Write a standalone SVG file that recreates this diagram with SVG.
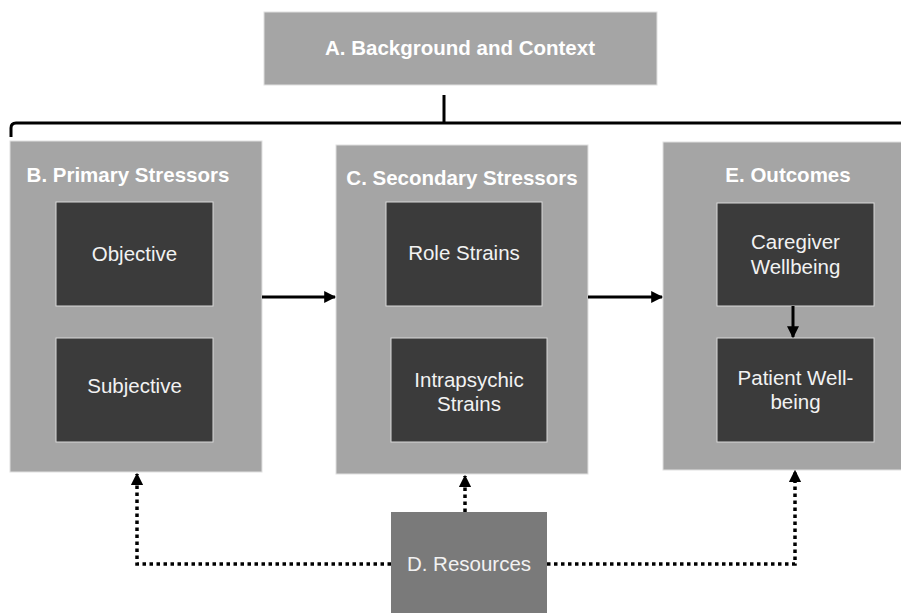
<svg xmlns="http://www.w3.org/2000/svg" width="901" height="613" viewBox="0 0 901 613">
<defs>
<style>
.outer{fill:#a5a5a5;stroke:#e0e0e0;stroke-width:1}
.inner{fill:#3b3b3b;stroke:#d9d9d9;stroke-width:1}
.res{fill:#7a7a7a}
.title{font-family:"Liberation Sans",Arial,sans-serif;font-weight:bold;font-size:20.5px;fill:#ffffff;text-anchor:middle}
.lbl{font-family:"Liberation Sans",Arial,sans-serif;font-size:20.5px;fill:#f2f2f2;text-anchor:middle}
.solid{fill:none;stroke:#000;stroke-width:3}
.dot{fill:none;stroke:#000;stroke-width:3.5;stroke-dasharray:3.5 3.5}
</style>
<marker id="ah" viewBox="0 0 10 10" refX="9" refY="5" markerWidth="4" markerHeight="4" orient="auto" markerUnits="strokeWidth">
<path d="M0,0 L10,5 L0,10 z" fill="#000"/>
</marker>
<marker id="ahd" viewBox="0 0 10 10" refX="9" refY="5" markerWidth="3.6" markerHeight="3.6" orient="auto" markerUnits="strokeWidth">
<path d="M0,0 L10,5 L0,10 z" fill="#000"/>
</marker>
</defs>
<rect width="901" height="613" fill="#ffffff"/>
<g id="nodeA">
<rect class="outer" x="264" y="12" width="393" height="73"/>
<text class="title" x="460" y="55">A. Background and Context</text>
</g>
<g id="nodeB">
<rect class="outer" x="10" y="141" width="252" height="331"/>
<text class="title" x="128" y="182">B. Primary Stressors</text>
</g>
<g id="nodeB1">
<rect class="inner" x="56" y="202" width="157" height="104"/>
<text class="lbl" x="134.5" y="261">Objective</text>
</g>
<g id="nodeB2">
<rect class="inner" x="56" y="338" width="157" height="104"/>
<text class="lbl" x="134.5" y="393">Subjective</text>
</g>
<g id="nodeC">
<rect class="outer" x="336" y="145" width="252" height="329"/>
<text class="title" x="462" y="185">C. Secondary Stressors</text>
</g>
<g id="nodeC1">
<rect class="inner" x="386" y="202" width="156" height="104"/>
<text class="lbl" x="464" y="260">Role Strains</text>
</g>
<g id="nodeC2">
<rect class="inner" x="391" y="338" width="156" height="104"/>
<text class="lbl" x="469" y="387">Intrapsychic</text>
<text class="lbl" x="469" y="411">Strains</text>
</g>
<g id="nodeE">
<rect class="outer" x="663" y="142" width="240" height="328"/>
<text class="title" x="788" y="182">E. Outcomes</text>
</g>
<g id="nodeE1">
<rect class="inner" x="717" y="203" width="157" height="103"/>
<text class="lbl" x="795.5" y="249">Caregiver</text>
<text class="lbl" x="795.5" y="274">Wellbeing</text>
</g>
<g id="nodeE2">
<rect class="inner" x="717" y="338" width="157" height="104"/>
<text class="lbl" x="795.5" y="385">Patient Well-</text>
<text class="lbl" x="795.5" y="409">being</text>
</g>
<g id="nodeD">
<rect class="res" x="391" y="512" width="156" height="101"/>
<text class="lbl" x="469" y="571">D. Resources</text>
</g>
<g id="connectors">
<path class="solid" d="M444,95 V123 M11,137 V128 Q11,123 16,123 H901"/>
<line class="solid" x1="262" y1="297" x2="335" y2="297" marker-end="url(#ah)"/>
<line class="solid" x1="588" y1="297" x2="662" y2="297" marker-end="url(#ah)"/>
<line class="solid" x1="793" y1="306" x2="793" y2="337" marker-end="url(#ah)"/>
<path class="dot" d="M391,564 H137 V474" marker-end="url(#ahd)"/>
<path class="dot" d="M465,512 V476" marker-end="url(#ahd)"/>
<path class="dot" d="M547,564 H795 V471" marker-end="url(#ahd)"/>
</g>
</svg>
